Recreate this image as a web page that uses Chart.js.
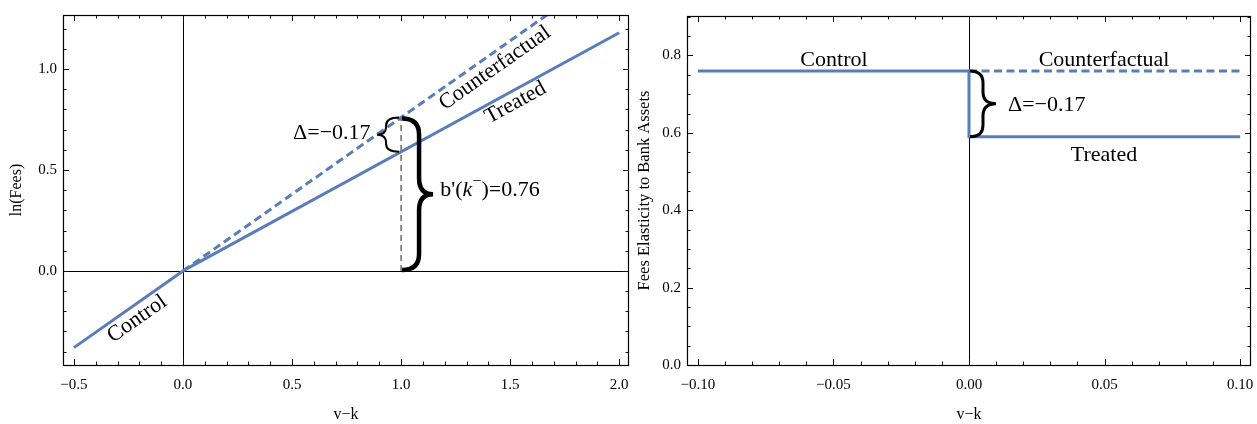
<!DOCTYPE html>
<html>
<head>
<meta charset="utf-8">
<script src="https://cdn.jsdelivr.net/npm/chart.js@4.4.1/dist/chart.umd.min.js"></script>
<style>
html, body { margin: 0; padding: 0; background: #fff; }
#wrap { position: relative; width: 1257px; height: 424px; }
#left { position: absolute; left: 0; top: 0; }
#right { position: absolute; left: 630px; top: 0; }
</style>
</head>
<body>
<div id="wrap">
  <canvas id="left" width="640" height="424"></canvas>
  <canvas id="right" width="627" height="424"></canvas>
</div>
<script>
// left panel: ln(Fees) against v-k
const ctrlX = [-0.5, 0.0];
const ctrlY = [-0.38, 0.0];
const treatX = [0.0, 2.0];
const treatY = [0.0, 1.18];
const cfX = [0.0, 2.0];
const cfY = [0.0, 1.52];
const gapX = [1.0, 1.0];
const gapY = [0.0, 0.76];
const leftXTicks = [-0.5, 0.0, 0.5, 1.0, 1.5, 2.0];
const leftYTicks = [0.0, 0.5, 1.0];

// right panel: fees elasticity to bank assets
const elCtrlX = [-0.1, 0.0];
const elCtrlY = [0.76, 0.76];
const elCfX = [0.0, 0.1];
const elCfY = [0.76, 0.76];
const elTreatX = [0.0, 0.0, 0.1];
const elTreatY = [0.76, 0.59, 0.59];
const rightXTicks = [-0.10, -0.05, 0.00, 0.05, 0.10];
const rightYTicks = [0.0, 0.2, 0.4, 0.6, 0.8];

const slopeCtrl = 0.76;
const slopeTreat = 0.59;
const delta = -0.17;

const BLUE = '#5a7dba';
const FONT = "'Liberation Serif', 'Times New Roman', serif";
const NOTE = '22px ' + FONT;

function pts(xs, ys) {
    return xs.map((x, i) => ({ x: x, y: ys[i] }));
}

function line(xs, ys, extra) {
    return Object.assign({
        data: pts(xs, ys),
        showLine: true,
        borderColor: BLUE,
        borderWidth: 3,
        pointRadius: 0,
        fill: false,
        tension: 0
    }, extra || {});
}

function fmt(d) {
    return v => Number(v).toFixed(d).replace('-', '\u2212');
}

// curly brace between two pixel heights; body/tip < 0 gives "{"
function brace(ctx, x0, yTop, yBot, body, tip, r) {
    const ym = (yTop + yBot) / 2;
    const xb = x0 + body;
    ctx.beginPath();
    ctx.moveTo(x0, yTop);
    ctx.quadraticCurveTo(xb, yTop, xb, yTop + r);
    ctx.lineTo(xb, ym - r);
    ctx.quadraticCurveTo(xb, ym, x0 + tip, ym);
    ctx.quadraticCurveTo(xb, ym, xb, ym + r);
    ctx.lineTo(xb, yBot - r);
    ctx.quadraticCurveTo(xb, yBot, x0, yBot);
    ctx.stroke();
}

function tilted(chart, text, xv, yv, slope) {
    const { ctx, scales: { x, y } } = chart;
    const ang = Math.atan2(y.getPixelForValue(slope) - y.getPixelForValue(0),
                           x.getPixelForValue(1) - x.getPixelForValue(0));
    ctx.save();
    ctx.translate(x.getPixelForValue(xv), y.getPixelForValue(yv));
    ctx.rotate(ang);
    ctx.textAlign = 'center';
    ctx.textBaseline = 'middle';
    ctx.fillText(text, 0, 0);
    ctx.restore();
}

function richText(ctx, parts, x, y) {
    let cx = x;
    parts.forEach(p => {
        ctx.font = p.font;
        ctx.fillText(p.t, cx, y + (p.dy || 0));
        cx += ctx.measureText(p.t).width;
    });
}

// frame, inward ticks on all sides and zero lines
const framePlugin = {
    id: 'frame',
    beforeDatasetsDraw(chart, args, opts) {
        const { ctx, chartArea: a, scales: { x, y } } = chart;
        ctx.save();
        ctx.strokeStyle = '#000';
        ctx.lineWidth = 1;
        ctx.beginPath();
        if (opts.zeroH) {
            const py = Math.round(y.getPixelForValue(0)) + 0.5;
            ctx.moveTo(a.left, py);
            ctx.lineTo(a.right, py);
        }
        if (opts.zeroV) {
            const px = Math.round(x.getPixelForValue(0)) + 0.5;
            ctx.moveTo(px, a.top);
            ctx.lineTo(px, a.bottom);
        }
        ctx.stroke();
        ctx.restore();
    },
    afterDraw(chart, args, opts) {
        const { ctx, chartArea: a, scales: { x, y } } = chart;
        ctx.save();
        ctx.strokeStyle = '#111';
        ctx.lineWidth = 1;
        ctx.beginPath();

        const xTicks = x.ticks.map(t => t.value);
        const yTicks = y.ticks.map(t => t.value);
        const isMajor = (arr, v) => arr.some(m => Math.abs(m - v) < 1e-9);

        function xTick(v, len) {
            const px = Math.round(x.getPixelForValue(v)) + 0.5;
            ctx.moveTo(px, a.bottom); ctx.lineTo(px, a.bottom - len);
            ctx.moveTo(px, a.top); ctx.lineTo(px, a.top + len);
        }
        function yTick(v, len) {
            const py = Math.round(y.getPixelForValue(v)) + 0.5;
            ctx.moveTo(a.left, py); ctx.lineTo(a.left + len, py);
            ctx.moveTo(a.right, py); ctx.lineTo(a.right - len, py);
        }

        xTicks.forEach(v => xTick(v, 6));
        yTicks.forEach(v => yTick(v, 6));
        for (let i = Math.ceil(x.min / opts.minorX); i * opts.minorX <= x.max; i++) {
            const v = +(i * opts.minorX).toFixed(6);
            if (!isMajor(xTicks, v)) xTick(v, 3.5);
        }
        for (let i = Math.ceil(y.min / opts.minorY); i * opts.minorY <= y.max; i++) {
            const v = +(i * opts.minorY).toFixed(6);
            if (!isMajor(yTicks, v)) yTick(v, 3.5);
        }
        ctx.stroke();

        ctx.strokeStyle = '#000';
        ctx.lineWidth = 1.2;
        ctx.strokeRect(a.left + 0.5, a.top + 0.5, a.right - a.left - 1, a.bottom - a.top);
        ctx.restore();
    }
};

function axes(xMin, xMax, yMin, yMax, xTicks, yTicks, xDec, yDec, yTitle, dims) {
    return {
        x: {
            type: 'linear',
            min: xMin,
            max: xMax,
            afterBuildTicks: s => { s.ticks = xTicks.map(v => ({ value: v })); },
            afterFit: s => { s.height = dims.xh; s.paddingLeft = 0; s.paddingRight = 0; },
            grid: { display: false, drawTicks: false },
            border: { display: false },
            ticks: { callback: fmt(xDec), padding: 11, color: '#000', maxRotation: 0,
                     font: { family: FONT, size: 15 } },
            title: { display: true, text: 'v\u2212k', color: '#000', padding: { top: 0, bottom: 0 },
                     font: { family: FONT, size: 16 } }
        },
        y: {
            type: 'linear',
            min: yMin,
            max: yMax,
            afterBuildTicks: s => { s.ticks = yTicks.map(v => ({ value: v })); },
            afterFit: s => { s.width = dims.yw; s.paddingTop = 0; s.paddingBottom = 0; },
            grid: { display: false, drawTicks: false },
            border: { display: false },
            ticks: { callback: fmt(yDec), padding: 6, color: '#000',
                     font: { family: FONT, size: 15 } },
            title: { display: true, text: yTitle, color: '#000', padding: { top: dims.tp, bottom: 0 },
                     font: { family: FONT, size: dims.ts } }
        }
    };
}

const leftNotes = {
    id: 'leftNotes',
    afterDatasetsDraw(chart) {
        const { ctx, scales: { x, y } } = chart;
        const kx = x.getPixelForValue(1.0);
        const yTop = y.getPixelForValue(slopeCtrl * 1.0);
        const yMid = y.getPixelForValue((slopeCtrl + delta) * 1.0);
        const y0 = y.getPixelForValue(0);

        ctx.save();
        ctx.strokeStyle = '#000';
        ctx.fillStyle = '#000';
        ctx.lineJoin = 'miter';
        ctx.lineWidth = 4.5;
        brace(ctx, kx + 1, yTop + 1, y0 - 1, 17, 31, 16);
        ctx.lineWidth = 2;
        brace(ctx, kx - 2, yTop, yMid, -13, -22, 8);

        ctx.font = NOTE;
        tilted(chart, 'Counterfactual', 1.43, 1.005, slopeCtrl);
        tilted(chart, 'Treated', 1.525, 0.833, slopeTreat);
        tilted(chart, 'Control', -0.21, -0.238, slopeCtrl);

        ctx.textBaseline = 'middle';
        ctx.textAlign = 'right';
        ctx.fillText('\u0394=\u22120.17', x.getPixelForValue(0.86), y.getPixelForValue(0.68));

        ctx.textAlign = 'left';
        richText(ctx, [
            { t: "b'(", font: NOTE },
            { t: 'k', font: 'italic ' + NOTE },
            { t: '\u2212', font: '16px ' + FONT, dy: -8 },
            { t: ')=0.76', font: NOTE }
        ], x.getPixelForValue(1.18), y.getPixelForValue(0.40));
        ctx.restore();
    }
};

const rightNotes = {
    id: 'rightNotes',
    afterDatasetsDraw(chart) {
        const { ctx, scales: { x, y } } = chart;
        const kx = x.getPixelForValue(0);
        ctx.save();
        ctx.strokeStyle = '#000';
        ctx.fillStyle = '#000';
        ctx.lineJoin = 'miter';
        ctx.lineWidth = 3;
        brace(ctx, kx + 1, y.getPixelForValue(0.76), y.getPixelForValue(0.59), 13, 26, 12);

        ctx.font = NOTE;
        ctx.textBaseline = 'middle';
        ctx.textAlign = 'center';
        ctx.fillText('Control', x.getPixelForValue(-0.0498), y.getPixelForValue(0.787));
        ctx.fillText('Counterfactual', x.getPixelForValue(0.0498), y.getPixelForValue(0.787));
        ctx.fillText('Treated', x.getPixelForValue(0.0498), y.getPixelForValue(0.542));
        ctx.textAlign = 'left';
        ctx.fillText('\u0394=\u22120.17', x.getPixelForValue(0.0144), y.getPixelForValue(0.672));
        ctx.restore();
    }
};

function baseOptions(scales, pad, frame) {
    return {
        responsive: false,
        animation: false,
        layout: { padding: pad },
        plugins: { legend: { display: false }, tooltip: { enabled: false }, frame: frame },
        scales: scales
    };
}

new Chart(document.getElementById('left'), {
    type: 'scatter',
    data: {
        datasets: [
            line(ctrlX, ctrlY),
            line(treatX, treatY),
            line(cfX, cfY, { borderDash: [8, 4.5] }),
            line(gapX, gapY, { borderColor: '#444', borderWidth: 1.2, borderDash: [6, 4] })
        ]
    },
    options: baseOptions(
        axes(-0.55, 2.045, -0.466, 1.268, leftXTicks, leftYTicks, 1, 1, 'ln(Fees)',
             { xh: 59, yw: 63, tp: 7, ts: 16 }),
        { top: 15, right: 11, left: 0, bottom: 0 },
        { minorX: 0.1, minorY: 0.1, zeroH: true, zeroV: true }
    ),
    plugins: [framePlugin, leftNotes]
});

new Chart(document.getElementById('right'), {
    type: 'scatter',
    data: {
        datasets: [
            line(elCtrlX, elCtrlY),
            line(elCfX, elCfY, { borderDash: [8, 4.5] }),
            line(elTreatX, elTreatY)
        ]
    },
    options: baseOptions(
        axes(-0.104, 0.104, 0, 0.902, rightXTicks, rightYTicks, 2, 1, 'Fees Elasticity to Bank Assets',
             { xh: 59, yw: 57, tp: 5, ts: 16.5 }),
        { top: 16, right: 6, left: 0, bottom: 0 },
        { minorX: 0.01, minorY: 0.05, zeroH: false, zeroV: true }
    ),
    plugins: [framePlugin, rightNotes]
});
</script>
</body>
</html>
